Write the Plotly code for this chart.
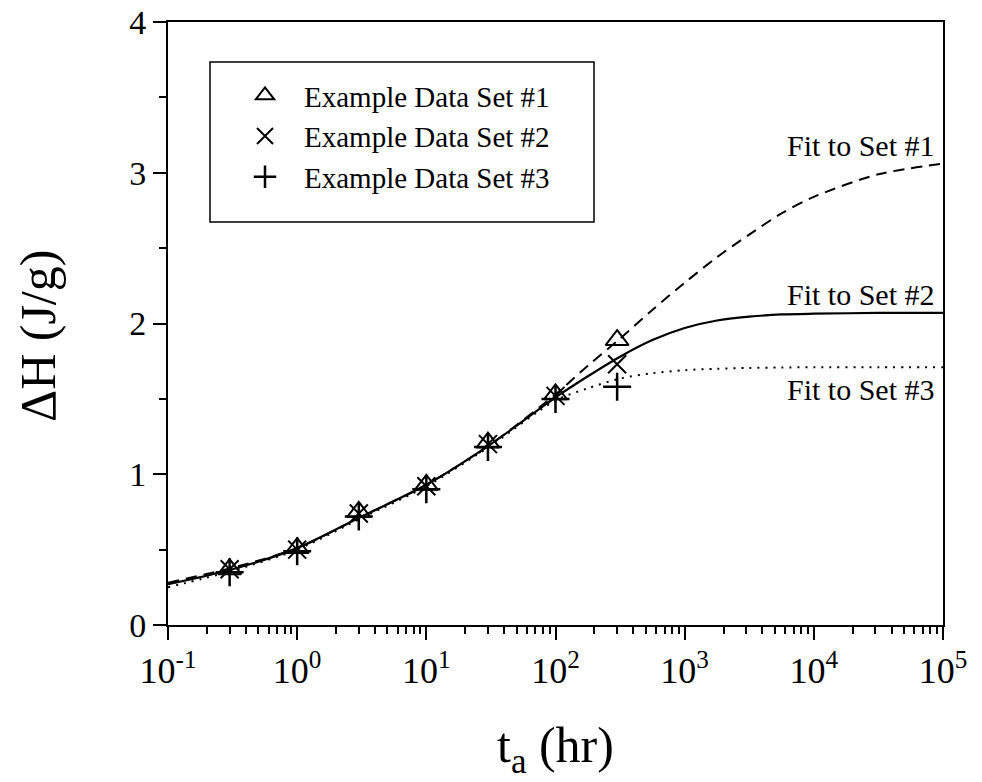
import plotly.graph_objects as go

# measured data
t_data = [0.3, 1, 3, 10, 30, 100, 300]
set1 = [0.37, 0.51, 0.75, 0.93, 1.21, 1.53, 1.89]
set2 = [0.37, 0.50, 0.74, 0.92, 1.20, 1.52, 1.73]
set3 = [0.35, 0.49, 0.72, 0.90, 1.18, 1.50, 1.58]

# fit curves
t_fit = [0.1, 0.316, 1, 3.16, 10, 31.6, 100, 178, 316, 562, 1000, 1780, 3160, 5620, 10000, 31600, 100000]
fit1 = [0.28, 0.38, 0.51, 0.72, 0.93, 1.20, 1.53, 1.72, 1.90, 2.09, 2.27, 2.44, 2.59, 2.73, 2.84, 2.99, 3.06]
fit2 = [0.27, 0.37, 0.51, 0.72, 0.93, 1.20, 1.51, 1.65, 1.78, 1.89, 1.97, 2.02, 2.045, 2.06, 2.065, 2.07, 2.07]
fit3 = [0.25, 0.36, 0.50, 0.71, 0.92, 1.19, 1.49, 1.57, 1.635, 1.67, 1.69, 1.70, 1.705, 1.708, 1.71, 1.71, 1.71]

x_tickvals = [0.1, 1, 10, 100, 1000, 10000, 100000]
x_ticktext = ["10<sup>-1</sup>", "10<sup>0</sup>", "10<sup>1</sup>", "10<sup>2</sup>",
              "10<sup>3</sup>", "10<sup>4</sup>", "10<sup>5</sup>"]
minor_vals = [m * d for d in [0.1, 1, 10, 100, 1000, 10000] for m in range(2, 10)]

fit_labels = ["Fit to Set #1", "Fit to Set #2", "Fit to Set #3"]
fit_label_y = [3.18, 2.19, 1.56]

FONT = "Liberation Serif, Times New Roman, serif"

fig = go.Figure()

fig.add_trace(go.Scatter(x=t_fit, y=fit1, mode="lines", line=dict(color="black", width=2, dash="11px,7px", shape="spline", smoothing=0.8), showlegend=False))
fig.add_trace(go.Scatter(x=t_fit, y=fit2, mode="lines", line=dict(color="black", width=2.2, shape="spline", smoothing=0.8), showlegend=False))
fig.add_trace(go.Scatter(x=t_fit, y=fit3, mode="lines", line=dict(color="black", width=2, dash="2px,6px", shape="spline", smoothing=0.8), showlegend=False))

fig.add_trace(go.Scatter(x=t_data, y=set1, mode="markers", name="Example Data Set #1",
                         marker=dict(symbol="triangle-up-open", size=20, color="black", line=dict(width=2))))
fig.add_trace(go.Scatter(x=t_data, y=set2, mode="markers", name="Example Data Set #2",
                         marker=dict(symbol="x-thin-open", size=18, color="black", line=dict(width=2))))
fig.add_trace(go.Scatter(x=t_data, y=set3, mode="markers", name="Example Data Set #3",
                         marker=dict(symbol="cross-thin-open", size=20, color="black", line=dict(width=2.5))))

for lab, yy in zip(fit_labels, fit_label_y):
    fig.add_annotation(x=1.0, xref="paper", xanchor="right", xshift=-6, y=yy, yref="y",
                       text=lab, showarrow=False, font=dict(family=FONT, size=30, color="black"))

# axis titles
fig.add_annotation(x=(555 - 168) / 775, y=(625 - 749) / 603, xref="paper", yref="paper",
                   xanchor="center", yanchor="middle",
                   text="t<sub>a</sub> (hr)", showarrow=False, font=dict(family=FONT, size=50, color="black"))
fig.add_annotation(x=(38 - 168) / 775, y=(625 - 336) / 603, xref="paper", yref="paper", textangle=-90,
                   xanchor="center", yanchor="middle",
                   text="ΔH (J/g)", showarrow=False, font=dict(family=FONT, size=50, color="black"))

# legend box
fig.add_shape(type="rect", xref="paper", yref="paper",
              x0=(210 - 168) / 775, x1=(594 - 168) / 775,
              y0=(625 - 222) / 603, y1=(625 - 62) / 603,
              line=dict(color="black", width=1.5), fillcolor="white", layer="below")

fig.update_layout(
    width=982, height=782,
    margin=dict(l=168, r=39, t=22, b=157),
    paper_bgcolor="white", plot_bgcolor="rgba(0,0,0,0)",
    font=dict(family=FONT, color="black"),
    legend=dict(x=(226 - 168) / 775, y=(625 - 70) / 603, xanchor="left", yanchor="top",
                bgcolor="rgba(0,0,0,0)", borderwidth=0, font=dict(family=FONT, size=29),
                tracegroupgap=0, itemwidth=68),
    xaxis=dict(type="log", range=[-1, 5], tickvals=x_tickvals, ticktext=x_ticktext, automargin=False,
               ticks="outside", ticklen=13, tickwidth=2, tickcolor="black",
               showline=True, linecolor="black", linewidth=2, mirror=True, showgrid=False, zeroline=False,
               tickfont=dict(family=FONT, size=36),
               minor=dict(tickvals=minor_vals, ticks="outside", ticklen=7, tickwidth=1.5, tickcolor="black", showgrid=False)),
    yaxis=dict(range=[0, 4], dtick=1, ticks="outside", ticklen=13, tickwidth=2, tickcolor="black", automargin=False,
               showline=True, linecolor="black", linewidth=2, mirror=True, showgrid=False, zeroline=False,
               tickfont=dict(family=FONT, size=34),
               minor=dict(dtick=0.5, ticks="outside", ticklen=7, tickwidth=1.5, tickcolor="black", showgrid=False)),
)

fig.write_html("out.html")
